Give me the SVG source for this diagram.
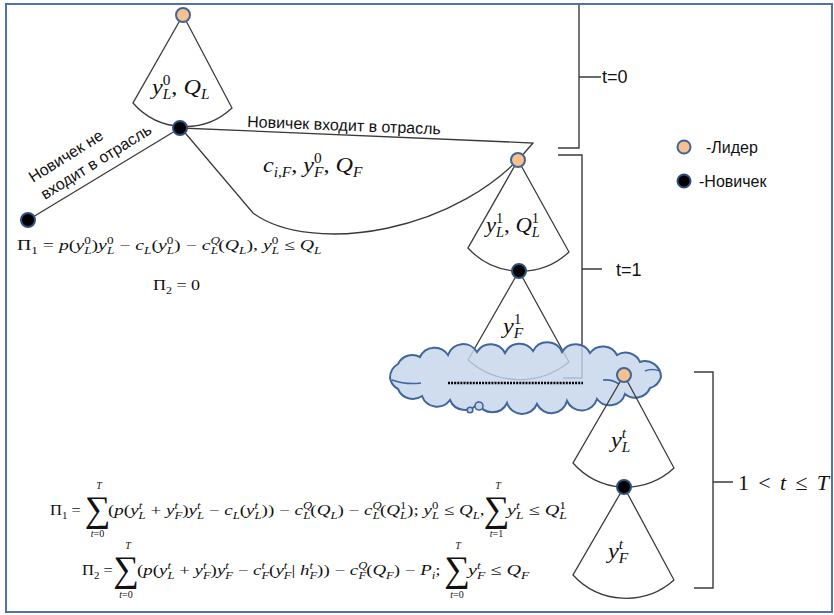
<svg xmlns="http://www.w3.org/2000/svg" width="834" height="615" viewBox="0 0 834 615">
<style>
.ln{fill:none;stroke:#3a3a3a;stroke-width:1.3}
.br{fill:none;stroke:#3a3a3a;stroke-width:1.4}
.ld{fill:#f9c08f;stroke:#3f6596;stroke-width:2}
.nw{fill:#000;stroke:#2f4f80;stroke-width:2}
.ru{font-family:"Liberation Sans",Arial,sans-serif;font-size:16px;fill:#111}
.tt{font-family:"Liberation Sans",Arial,sans-serif;font-size:18px;fill:#111}
.m{font-family:"Liberation Serif","Times New Roman",serif;font-size:15px;fill:#111}
.ml{font-family:"Liberation Serif","Times New Roman",serif;font-size:22px;fill:#111}
.i{font-style:italic}
.p{font-size:10px;baseline-shift:6px}
.b{font-size:10px;baseline-shift:-4px}
.P{font-size:14px;baseline-shift:9px}
.B{font-size:14px;baseline-shift:-5px}
.sg{font-family:"Liberation Serif","Times New Roman",serif;font-size:36px;fill:#111}
.lim{font-family:"Liberation Serif","Times New Roman",serif;font-size:10px;fill:#111}
</style>
<rect x="0" y="0" width="834" height="615" fill="#fff"/>
<rect x="6" y="4" width="826" height="608" fill="none" stroke="#4f73a8" stroke-width="2"/>

<g id="brackets">
<path class="br" d="M558,148 L579,148 L579,5 M579,77 L601,77"/>
<text class="tt" x="602" y="83">t=0</text>
<path class="br" d="M558,155 L582,155 L582,378 L563,378 M582,269 L602,269"/>
<text class="tt" x="616" y="276">t=1</text>
<path class="br" d="M694,372 L713,372 L713,588 L694,588 M713,482 L733,482"/>
<text class="ml" x="738" y="490" textLength="91" lengthAdjust="spacing">1 &lt; <tspan class="i">t</tspan> ≤ <tspan class="i">T</tspan></text>
</g>

<g id="connectors">
<path class="ln" d="M180,128 L28,220"/>
<path class="ln" d="M181,128 L253,213 C310,255 460,235 533,143 Z"/>
</g>

<g id="leader-t0">
<path class="ln" d="M183,15 L133,103 A69,69 0 0 0 232,108 Z"/>
<circle class="ld" cx="183" cy="15" r="7"/>
<text class="ml" transform="translate(152,94) scale(1.1,1)"><tspan class="i">y</tspan><tspan class="P">0</tspan><tspan class="B i" dx="-7">L</tspan>, <tspan class="i">Q</tspan><tspan class="B i">L</tspan></text>
</g>

<g id="entrant-t0">
<circle class="nw" cx="180" cy="128" r="7"/>
<text class="ml" transform="translate(263,172) scale(1.1,1)"><tspan class="i">c</tspan><tspan class="B i">i,F</tspan>, <tspan class="i">y</tspan><tspan class="P">0</tspan><tspan class="B i" dx="-7">F</tspan>, <tspan class="i">Q</tspan><tspan class="B i">F</tspan></text>
<text class="ru" transform="translate(33,183) rotate(-32)">Новичек не</text>
<text class="ru" transform="translate(45,200) rotate(-32)">входит в отрасль</text>
<text class="ru" transform="translate(247,127) rotate(2.2)">Новичек входит в отрасль</text>
</g>

<g id="exit-node">
<circle class="nw" cx="28" cy="220" r="7"/>
<text class="m" transform="translate(17,250) scale(1.32,1)">Π<tspan class="b">1</tspan> = <tspan class="i">p</tspan>(<tspan class="i">y</tspan><tspan class="p">0</tspan><tspan class="b i" dx="-5">L</tspan>)<tspan class="i">y</tspan><tspan class="p">0</tspan><tspan class="b i" dx="-5">L</tspan> − <tspan class="i">c</tspan><tspan class="b i">L</tspan>(<tspan class="i">y</tspan><tspan class="p">0</tspan><tspan class="b i" dx="-5">L</tspan>) − <tspan class="i">c</tspan><tspan class="p i">Q</tspan><tspan class="b i" dx="-7">L</tspan>(<tspan class="i">Q</tspan><tspan class="b i">L</tspan>), <tspan class="i">y</tspan><tspan class="p">0</tspan><tspan class="b i" dx="-5">L</tspan> ≤ <tspan class="i">Q</tspan><tspan class="b i">L</tspan></text>
<text class="m" transform="translate(153,290) scale(1.2,1)">Π<tspan class="b">2</tspan> = 0</text>
</g>

<g id="leader-t1">
<path class="ln" d="M518,160 L468,248 A71,71 0 0 0 569,252 Z"/>
<text class="ml" transform="translate(486,232) scale(1.03,1)"><tspan class="i">y</tspan><tspan class="P">1</tspan><tspan class="B i" dx="-7">L</tspan>, <tspan class="i">Q</tspan><tspan class="P">1</tspan><tspan class="B i" dx="-7">L</tspan></text>
</g>

<g id="entrant-t1">
<path class="ln" d="M519,271 L468,360 A78,78 0 0 0 569,362 Z"/>
<text class="ml" transform="translate(503,333) scale(1.1,1)"><tspan class="i">y</tspan><tspan class="P">1</tspan><tspan class="B i" dx="-7">F</tspan></text>
</g>

<g id="cloud">
<path fill="#c5d5ea" fill-opacity="0.82" stroke="#41669d" stroke-width="2" d="M390,378 A16,16 0 0 1 398,364 A16,16 0 0 1 420,357 A16,16 0 0 1 448,355 A16,16 0 0 1 477,352 A16,16 0 0 1 505,353 A16,16 0 0 1 533,351 A16,16 0 0 1 562,352 A16,16 0 0 1 590,353 A16,16 0 0 1 617,355 A16,16 0 0 1 640,362 A16,16 0 0 1 661,377 A16,16 0 0 1 650,388 A16,16 0 0 1 625,394 A16,16 0 0 1 597,399 A16,16 0 0 1 567,401 A16,16 0 0 1 537,404 A16,16 0 0 1 507,403 A16,16 0 0 1 478,403 A16,16 0 0 1 450,400 A16,16 0 0 1 422,396 A16,16 0 0 1 398,389 A16,16 0 0 1 390,378 Z"/>
<path fill="none" stroke="#41669d" stroke-width="1.6" d="M392,380 Q406,385 421,383 M603,380 Q612,379 619,384 M645,371 Q652,368 660,371"/>
<circle cx="470" cy="410" r="2.8" fill="#c5d5ea" stroke="#41669d" stroke-width="1.6"/>
<circle cx="479" cy="406" r="4" fill="#c5d5ea" stroke="#41669d" stroke-width="1.6"/>
<path d="M448,383 L583,383" stroke="#000" stroke-width="2.6" stroke-dasharray="2 1.1"/>
</g>

<g id="leader-t">
<path class="ln" d="M624,375 L573,463 A70,70 0 0 0 674,468 Z"/>
<text class="ml" transform="translate(611,447) scale(1.1,1)"><tspan class="i">y</tspan><tspan class="P i">t</tspan><tspan class="B i" dx="-3.9">L</tspan></text>
</g>

<g id="entrant-t">
<path class="ln" d="M624,487 L573,575 A72,72 0 0 0 674,580 Z"/>
<text class="ml" transform="translate(608,558) scale(1.1,1)"><tspan class="i">y</tspan><tspan class="P i">t</tspan><tspan class="B i" dx="-3.9">F</tspan></text>
</g>

<g id="nodes">
<circle class="ld" cx="518" cy="160" r="7"/>
<circle class="nw" cx="519" cy="271" r="7"/>
<circle class="ld" cx="624" cy="375" r="7"/>
<circle class="nw" cx="624" cy="487" r="7"/>
</g>

<g id="legend">
<circle class="ld" cx="684" cy="147" r="6.5"/>
<text class="ru" x="706" y="153">-Лидер</text>
<circle class="nw" cx="684" cy="181" r="6.5"/>
<text class="ru" x="699" y="187">-Новичек</text>
</g>

<g id="payoffs">
<text class="m" transform="translate(50,515) scale(1.1,1)">Π<tspan class="b">1</tspan> =</text>
<text class="sg" x="97.5" y="521" text-anchor="middle">∑</text>
<text class="lim i" x="99" y="489" text-anchor="middle">T</text>
<text class="lim" x="97.5" y="537" text-anchor="middle"><tspan class="i">t</tspan>=0</text>
<text class="m" transform="translate(108,515) scale(1.27,1)">(<tspan class="i">p</tspan>(<tspan class="i">y</tspan><tspan class="p i">t</tspan><tspan class="b i" dx="-2.8">L</tspan> + <tspan class="i">y</tspan><tspan class="p i">t</tspan><tspan class="b i" dx="-2.8">F</tspan>)<tspan class="i">y</tspan><tspan class="p i">t</tspan><tspan class="b i" dx="-2.8">L</tspan> − <tspan class="i">c</tspan><tspan class="b i">L</tspan>(<tspan class="i">y</tspan><tspan class="p i">t</tspan><tspan class="b i" dx="-2.8">L</tspan>)) − <tspan class="i">c</tspan><tspan class="p i">Q</tspan><tspan class="b i" dx="-7">L</tspan>(<tspan class="i">Q</tspan><tspan class="b i">L</tspan>) − <tspan class="i">c</tspan><tspan class="p i">Q</tspan><tspan class="b i" dx="-7">L</tspan>(<tspan class="i">Q</tspan><tspan class="p">1</tspan><tspan class="b i" dx="-5">L</tspan>); <tspan class="i">y</tspan><tspan class="p">0</tspan><tspan class="b i" dx="-5">L</tspan> ≤ <tspan class="i">Q</tspan><tspan class="b i">L</tspan>,</text>
<text class="sg" x="496.5" y="521" text-anchor="middle">∑</text>
<text class="lim i" x="498" y="489" text-anchor="middle">T</text>
<text class="lim" x="496.5" y="537" text-anchor="middle"><tspan class="i">t</tspan>=1</text>
<text class="m" transform="translate(507,515) scale(1.35,1)"><tspan class="i">y</tspan><tspan class="p i">t</tspan><tspan class="b i" dx="-2.8">L</tspan> ≤ <tspan class="i">Q</tspan><tspan class="p">1</tspan><tspan class="b i" dx="-5">L</tspan></text>

<text class="m" transform="translate(82,575) scale(1.1,1)">Π<tspan class="b">2</tspan> =</text>
<text class="sg" x="126" y="581" text-anchor="middle">∑</text>
<text class="lim i" x="128" y="549" text-anchor="middle">T</text>
<text class="lim" x="126" y="598" text-anchor="middle"><tspan class="i">t</tspan>=0</text>
<text class="m" transform="translate(137,575) scale(1.26,1)">(<tspan class="i">p</tspan>(<tspan class="i">y</tspan><tspan class="p i">t</tspan><tspan class="b i" dx="-2.8">L</tspan> + <tspan class="i">y</tspan><tspan class="p i">t</tspan><tspan class="b i" dx="-2.8">F</tspan>)<tspan class="i">y</tspan><tspan class="p i">t</tspan><tspan class="b i" dx="-2.8">F</tspan> − <tspan class="i">c</tspan><tspan class="p i">t</tspan><tspan class="b i" dx="-2.8">F</tspan>(<tspan class="i">y</tspan><tspan class="p i">t</tspan><tspan class="b i" dx="-2.8">F</tspan>| <tspan class="i">h</tspan><tspan class="p i">t</tspan><tspan class="b i" dx="-2.8">F</tspan>)) − <tspan class="i">c</tspan><tspan class="p i">Q</tspan><tspan class="b i" dx="-7">F</tspan>(<tspan class="i">Q</tspan><tspan class="b i">F</tspan>) − <tspan class="i">P</tspan><tspan class="b i">i</tspan>;</text>
<text class="sg" x="457" y="581" text-anchor="middle">∑</text>
<text class="lim i" x="458" y="549" text-anchor="middle">T</text>
<text class="lim" x="457" y="598" text-anchor="middle"><tspan class="i">t</tspan>=0</text>
<text class="m" transform="translate(468,575) scale(1.35,1)"><tspan class="i">y</tspan><tspan class="p i">t</tspan><tspan class="b i" dx="-2.8">F</tspan> ≤ <tspan class="i">Q</tspan><tspan class="b i">F</tspan></text>
</g>
</svg>
